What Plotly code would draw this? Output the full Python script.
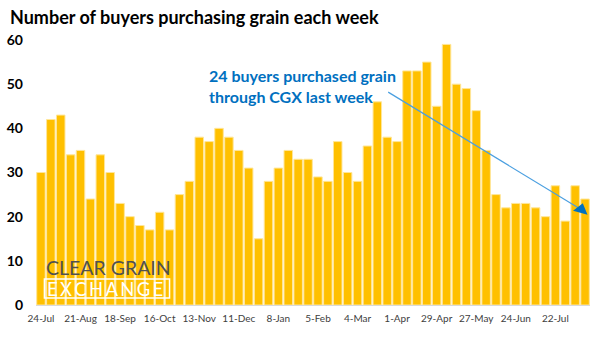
import plotly.graph_objects as go

weeks = list(range(56))
buyers = [30, 42, 43, 34, 35, 24, 34, 30, 23, 20, 18, 17, 21, 17, 25, 28, 38, 37, 40, 38,
          35, 31, 15, 28, 31, 35, 33, 33, 29, 28, 37, 30, 28, 36, 46, 38, 37, 53, 53, 55,
          45, 59, 50, 49, 44, 35, 25, 22, 23, 23, 22, 20, 27, 19, 27, 24]
tick_idx = [0, 4, 8, 12, 16, 20, 24, 28, 32, 36, 40, 44, 48, 52]
tick_labels = ["24-Jul", "21-Aug", "18-Sep", "16-Oct", "13-Nov", "11-Dec", "8-Jan",
               "5-Feb", "4-Mar", "1-Apr", "29-Apr", "27-May", "24-Jun", "22-Jul"]
y_ticks = [0, 10, 20, 30, 40, 50, 60]

FONT = "Lato"

fig = go.Figure()
fig.add_trace(go.Bar(
    x=weeks, y=buyers,
    marker=dict(color="#FFC000", line=dict(color="#FFE699", width=1)),
    width=0.86,
    hoverinfo="skip",
))

# arrow line
fig.add_trace(go.Scatter(
    x=[35.1, 54.6], y=[48.2, 21.6], mode="lines",
    line=dict(color="#4A9FE0", width=1.2), hoverinfo="skip",
))
fig.add_trace(go.Scatter(
    x=[54.6], y=[21.6], mode="markers",
    marker=dict(symbol="triangle-up", size=13, color="#0070C0", angle=15),
    hoverinfo="skip",
))

fig.update_layout(
    width=602, height=337,
    margin=dict(l=36, r=12, t=40, b=32, autoexpand=False),
    paper_bgcolor="white", plot_bgcolor="white",
    showlegend=False,
    bargap=0.14,
    font=dict(family=FONT),
    xaxis=dict(
        range=[-0.5, 55.5], tickmode="array", tickvals=tick_idx, ticktext=tick_labels,
        tickfont=dict(size=10, color="#404040", family=FONT),
        showgrid=False, zeroline=False, showline=True, linecolor="#D9D9D9", linewidth=1,
        ticks="", ticklabelstandoff=4, automargin=False,
    ),
    yaxis=dict(
        range=[0, 60], tickmode="array", tickvals=y_ticks,
        tickfont=dict(size=14, color="black", family=FONT, weight="bold"),
        showgrid=False, zeroline=False, showline=False, ticks="", ticklabelstandoff=12,
        automargin=False,
    ),
    annotations=[
        dict(text="<b>Number of buyers purchasing grain each week</b>", xref="paper", yref="paper",
             x=-28/554, y=1 + 23/265, xanchor="left", yanchor="middle", showarrow=False,
             font=dict(size=18, color="black", family=FONT)),
        dict(text="<b>24 buyers purchased grain<br>through CGX last week</b>", x=16.8, y=49.6,
             xanchor="left", yanchor="middle", align="left", showarrow=False,
             font=dict(size=16, color="#0070C0", family=FONT)),
        dict(text="CLEAR GRAIN", x=0.35, y=8.5, xanchor="left", yanchor="middle", showarrow=False,
             font=dict(size=19.5, color="#505050", family=FONT)),
        dict(text="E\u2009X\u2009C\u2009H\u2009A\u2009N\u2009G\u2009E", x=0.4, y=3.7,
             xanchor="left", yanchor="middle", showarrow=False,
             font=dict(size=18.5, color="white", family=FONT)),
    ],
    shapes=[
        dict(type="rect", x0=0.35, x1=13.0, y0=1.6, y1=5.9, line=dict(color="white", width=1.5),
             layer="above"),
    ],
)

fig.write_html("out.html")
